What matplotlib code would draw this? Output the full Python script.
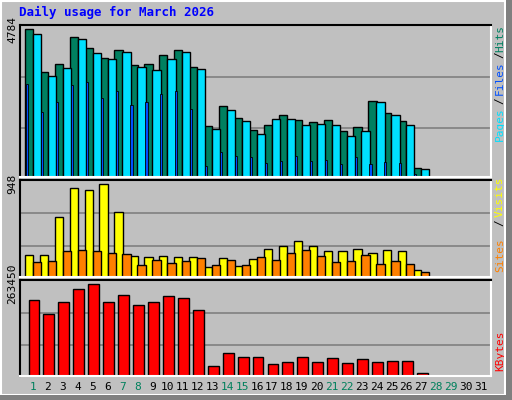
import matplotlib.pyplot as plt
import numpy as np

days = np.arange(1, 32)
n = 27  # days with data

# 读图估计的数值
hits = [4784, 3393, 3654, 4523, 4165, 3840, 4100, 3611, 3644, 3937, 4100, 3547, 1659, 2310, 1920, 1530,
        1692, 2017, 1855, 1790, 1855, 1497, 1627, 2473, 2082, 1822, 293]
files = [4620, 3263, 3514, 4458, 4002, 3808, 4035, 3547, 3449, 3807, 4035, 3482, 1562, 2180, 1822, 1400,
         1887, 1887, 1692, 1725, 1692, 1334, 1497, 2440, 2017, 1692, 260]
pages = [2998, 2087, 2412, 2965, 3062, 2541, 2769, 2343, 2440, 2668, 2769, 2213, 358, 813, 683, 651,
         455, 520, 683, 520, 553, 423, 651, 423, 488, 455, 98]
visits = [227, 227, 608, 907, 886, 948, 659, 216, 206, 216, 206, 206, 103, 196, 113, 185,
          288, 319, 371, 319, 268, 268, 288, 247, 278, 268, 72]
sites = [155, 165, 268, 278, 268, 247, 237, 124, 175, 144, 165, 196, 124, 175, 124, 206,
         175, 247, 278, 216, 155, 165, 227, 134, 165, 134, 51]
kbytes = [217710, 177620, 212000, 249240, 263450, 212000, 232050, 203410, 212000, 229190, 223460, 189070,
          28640, 65870, 54410, 54410, 34370, 40090, 54410, 40090, 51550, 37230, 48680, 40090, 42960, 42960, 8590]

weekend = [1, 7, 8, 14, 15, 21, 22, 28, 29]

BG = '#C0C0C0'
fig = plt.figure(figsize=(5.12, 4.0), dpi=100, facecolor=BG)
mono = 'DejaVu Sans Mono'

# 外框
fig.patches.append(plt.Rectangle((0.002, 0.012), 0.984, 0.985, transform=fig.transFigure,
                                 fill=False, edgecolor='white', lw=1.5))
fig.patches.append(plt.Rectangle((0.988, 0.0), 0.012, 1.0, transform=fig.transFigure, color='#808080', lw=0))
fig.patches.append(plt.Rectangle((0.0, 0.0), 1.0, 0.012, transform=fig.transFigure, color='#808080', lw=0))

fig.text(0.037, 0.97, 'Daily usage for March 2026', color='#0000FF', fontsize=9,
         family=mono, fontweight='bold', va='center')

ax1 = fig.add_axes([0.039, 0.5575, 0.92, 0.38])
ax2 = fig.add_axes([0.039, 0.3075, 0.92, 0.2425])
ax3 = fig.add_axes([0.039, 0.06, 0.92, 0.24])

x = days[:n]
ax1.bar(x - 0.27, hits, width=0.55, color='#008060', edgecolor='black', lw=1)
ax1.bar(x + 0.27, files, width=0.55, color='#00E0FF', edgecolor='black', lw=1)
ax1.bar(x - 0.4, pages, width=0.14, color='#0050FF', edgecolor='black', lw=0.6)
ax1.set_ylim(0, max(hits) * 151 / 147)

ax2.bar(x - 0.27, visits, width=0.55, color='#FFFF00', edgecolor='black', lw=1)
ax2.bar(x + 0.27, sites, width=0.55, color='#FF8000', edgecolor='black', lw=1)
ax2.set_ylim(0, max(visits) * 96 / 92)

ax3.bar(x + 0.07, kbytes, width=0.73, color='#FF0000', edgecolor='black', lw=1)
ax3.set_ylim(0, max(kbytes) * 96 / 92)

for ax, top in [(ax1, max(hits)), (ax2, max(visits)), (ax3, max(kbytes))]:
    ax.set_facecolor(BG)
    ax.set_xlim(0.13, 31.67)
    ylim = ax.get_ylim()[1]
    for f in (0.32, 0.66):
        ax.axhline(ylim * f, color='#808080', lw=1.2, zorder=0)
    ax.set_yticks([top])
    ax.set_yticklabels([str(top)], rotation=90, va='center', family=mono, fontsize=8)
    ax.tick_params(length=0, pad=2)
    ax.set_xticks([])
    for s in ('left', 'top'):
        ax.spines[s].set_color('black')
    for s in ('right', 'bottom'):
        ax.spines[s].set_color('white')
    for s in ax.spines.values():
        s.set_linewidth(1.5)

ax3.set_xticks(days)
ax3.set_xticklabels([str(d) for d in days], family=mono, fontsize=8)
for lbl, d in zip(ax3.get_xticklabels(), days):
    lbl.set_color('#00805C' if d in weekend else 'black')
ax3.tick_params(axis='x', pad=4)


def side(ax, y, txt, col):
    ax.text(1.008, y, txt, color=col, rotation=90, transform=ax.transAxes,
            family=mono, fontsize=8, va='bottom', ha='left')


side(ax1, 0.24, 'Pages', '#00E0FF')
side(ax1, 0.48, '/', 'black')
side(ax1, 0.54, 'Files', '#0050FF')
side(ax1, 0.78, '/', 'black')
side(ax1, 0.82, 'Hits', '#008060')

side(ax2, 0.05, 'Sites', '#FF8000')
side(ax2, 0.53, '/', 'black')
side(ax2, 0.62, 'Visits', '#FFFF00')

side(ax3, 0.05, 'KBytes', '#FF0000')

plt.savefig('out.png', dpi=100, facecolor=BG)
